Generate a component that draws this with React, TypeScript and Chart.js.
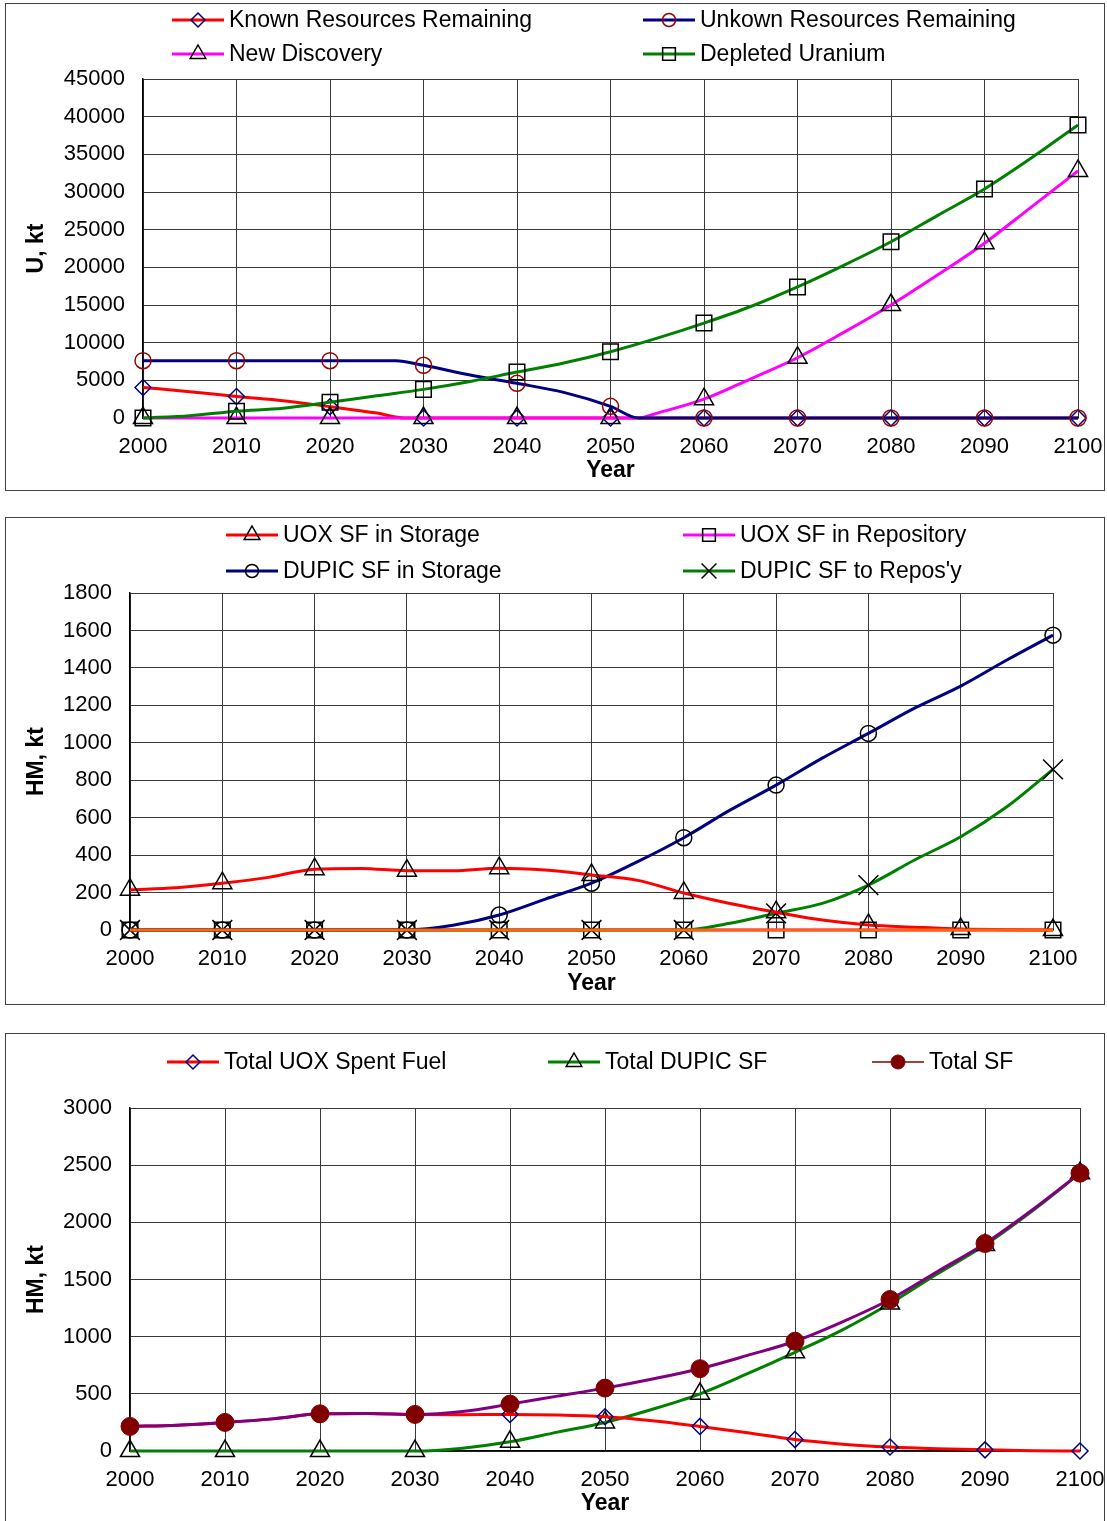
import React, { useEffect, useRef } from 'react';
import { Chart, registerables } from 'chart.js';

Chart.register(...registerables);

const FONT_FAMILY = '"Liberation Sans", Arial, Helvetica, sans-serif';

// ---------------- shared axis values ----------------
const yearTicks = [2000, 2010, 2020, 2030, 2040, 2050, 2060, 2070, 2080, 2090, 2100];
const years5 = [2000, 2005, 2010, 2015, 2020, 2025, 2030, 2035, 2040, 2045, 2050, 2055, 2060, 2065, 2070, 2075, 2080, 2085, 2090, 2095, 2100];
// DUPIC marker series in the original skip the 2090 point
const dupicMarkerYears = [2000, 2010, 2020, 2030, 2040, 2050, 2060, 2070, 2080, 2100];

// ---------------- chart 1: uranium (U, kt) ----------------
const uTicks = [0, 5000, 10000, 15000, 20000, 25000, 30000, 35000, 40000, 45000];
const knownYears = [2000, 2005, 2010, 2015, 2020, 2025, 2028, 2030, 2040, 2050, 2060, 2070, 2080, 2090, 2100];
const knownRemaining = [4050, 3500, 2850, 2300, 1500, 650, 0, 0, 0, 0, 0, 0, 0, 0, 0];
const unknownYears = [2000, 2010, 2020, 2027, 2030, 2035, 2040, 2045, 2050, 2053, 2060, 2070, 2080, 2090, 2100];
const unknownRemaining = [7600, 7600, 7600, 7600, 7000, 5700, 4600, 3400, 1550, 0, 0, 0, 0, 0, 0];
const discoveryYears = [2000, 2010, 2020, 2030, 2040, 2050, 2053, 2055, 2060, 2065, 2070, 2075, 2080, 2085, 2090, 2095, 2100];
const newDiscovery = [0, 0, 0, 0, 0, 0, 0, 650, 2500, 5200, 8000, 11400, 15000, 19000, 23200, 28000, 32800];
const depletedUranium = [0, 300, 900, 1300, 2100, 2950, 3800, 4850, 6100, 7300, 8800, 10600, 12600, 14800, 17400, 20300, 23400, 26900, 30400, 34500, 38900];

// ---------------- chart 2: spent fuel inventories (HM, kt) ----------------
const hm2Ticks = [0, 200, 400, 600, 800, 1000, 1200, 1400, 1600, 1800];
const uoxStorage = [215, 226, 250, 281, 325, 329, 317, 317, 330, 320, 294, 265, 198, 142, 95, 53, 27, 15, 5, 2, 0];
const uoxRepository = [0, 0, 0, 0, 0, 0, 0, 0, 0, 0, 0];
const dupicStorageYears = [2000, 2010, 2020, 2030, 2035, 2040, 2045, 2050, 2055, 2060, 2065, 2070, 2075, 2080, 2085, 2090, 2095, 2100];
const dupicStorage = [0, 0, 0, 0, 25, 80, 165, 250, 365, 493, 640, 774, 918, 1050, 1185, 1303, 1442, 1575];
const dupicReposYears = [2000, 2010, 2020, 2030, 2040, 2050, 2060, 2065, 2070, 2075, 2080, 2085, 2090, 2095, 2100];
const dupicToRepos = [0, 0, 0, 0, 0, 0, 0, 36, 89, 142, 240, 374, 498, 658, 858];
const otherZeroYears = [2000, 2100];
const otherZero = [0, 0];

// ---------------- chart 3: totals (HM, kt) ----------------
const hm3Ticks = [0, 500, 1000, 1500, 2000, 2500, 3000];
const totalUox = [215, 226, 250, 281, 325, 329, 320, 317, 320, 315, 300, 265, 215, 160, 100, 60, 35, 20, 10, 3, 0];
const totalDupicYears = [2000, 2010, 2020, 2030, 2035, 2040, 2045, 2050, 2055, 2060, 2065, 2070, 2075, 2080, 2085, 2090, 2095, 2100];
const totalDupic = [0, 0, 0, 0, 25, 80, 165, 250, 365, 500, 676, 863, 1060, 1290, 1550, 1801, 2100, 2430];
const totalSF = [215, 226, 250, 281, 325, 329, 320, 345, 410, 480, 550, 630, 720, 836, 960, 1130, 1325, 1570, 1815, 2110, 2430];

// ---------------- styling ----------------
type Marker = { style: string; radius: number; legendRadius: number; color: string; fill: string; width: number };

const NONE = 'rgba(0,0,0,0)';
const MARK: Record<string, Marker> = {
  diamondNavy: { style: 'rectRot', radius: 8, legendRadius: 7, color: '#000080', fill: NONE, width: 1.5 },
  circleDarkRed: { style: 'circle', radius: 8, legendRadius: 6.5, color: '#990000', fill: NONE, width: 1.5 },
  triangleBlack: { style: 'triangle', radius: 11, legendRadius: 9, color: '#000000', fill: NONE, width: 1.5 },
  squareBlack: { style: 'rect', radius: 11, legendRadius: 9, color: '#000000', fill: NONE, width: 1.5 },
  circleBlack: { style: 'circle', radius: 8, legendRadius: 6.5, color: '#000000', fill: NONE, width: 1.5 },
  crossBlack: { style: 'crossRot', radius: 14, legendRadius: 10.5, color: '#000000', fill: NONE, width: 1.5 },
  dotDarkRed: { style: 'circle', radius: 9, legendRadius: 7, color: '#800000', fill: '#800000', width: 1 },
};

function series(label: string, xs: number[], ys: number[], color: string, lineWidth: number, marker?: Marker, markerYears: number[] = yearTicks) {
  return {
    label,
    data: xs.map((x, i) => ({ x, y: ys[i] })),
    borderColor: color,
    backgroundColor: color,
    borderWidth: lineWidth,
    fill: false,
    cubicInterpolationMode: 'monotone',
    clip: false,
    pointStyle: marker ? marker.style : 'circle',
    pointRadius: marker ? (c: any) => (c.raw && markerYears.indexOf(c.raw.x) >= 0 ? marker.radius : 0) : 0,
    pointHoverRadius: 0,
    pointBorderColor: marker ? marker.color : color,
    pointBackgroundColor: marker ? marker.fill : color,
    pointBorderWidth: marker ? marker.width : 0,
  };
}

function drawMarker(ctx: CanvasRenderingContext2D, m: Marker, x: number, y: number) {
  const r = m.legendRadius;
  ctx.save();
  ctx.lineWidth = m.width;
  ctx.strokeStyle = m.color;
  ctx.fillStyle = m.fill;
  ctx.beginPath();
  if (m.style === 'circle') {
    ctx.arc(x, y, r, 0, Math.PI * 2);
  } else if (m.style === 'rectRot') {
    ctx.moveTo(x - r, y);
    ctx.lineTo(x, y - r);
    ctx.lineTo(x + r, y);
    ctx.lineTo(x, y + r);
    ctx.closePath();
  } else if (m.style === 'rect') {
    const s = r * Math.SQRT1_2;
    ctx.rect(x - s, y - s, 2 * s, 2 * s);
  } else if (m.style === 'triangle') {
    ctx.moveTo(x, y - r);
    ctx.lineTo(x + r * 0.866, y + r * 0.5);
    ctx.lineTo(x - r * 0.866, y + r * 0.5);
    ctx.closePath();
  } else if (m.style === 'crossRot') {
    const o = r * Math.SQRT1_2;
    ctx.moveTo(x - o, y - o);
    ctx.lineTo(x + o, y + o);
    ctx.moveTo(x + o, y - o);
    ctx.lineTo(x - o, y + o);
  }
  if (m.fill !== NONE) ctx.fill();
  ctx.stroke();
  ctx.restore();
}

type LegendItem = { index: number; x: number; y: number; marker: Marker; lineColor?: string; lineWidth?: number };

function legendPlugin(items: LegendItem[]) {
  return {
    id: 'excelLegend',
    afterDraw(chart: any) {
      const ctx: CanvasRenderingContext2D = chart.ctx;
      ctx.save();
      items.forEach((it) => {
        const ds = chart.data.datasets[it.index];
        ctx.strokeStyle = it.lineColor || ds.borderColor;
        ctx.lineWidth = it.lineWidth || 3;
        ctx.beginPath();
        ctx.moveTo(it.x, it.y);
        ctx.lineTo(it.x + 52, it.y);
        ctx.stroke();
        drawMarker(ctx, it.marker, it.x + 26, it.y);
        ctx.fillStyle = '#000';
        ctx.font = `23px ${FONT_FAMILY}`;
        ctx.textAlign = 'left';
        ctx.textBaseline = 'middle';
        ctx.fillText(ds.label, it.x + 57, it.y + 1);
      });
      ctx.restore();
    },
  };
}

type Spec = {
  datasets: any[];
  yTicks: number[];
  yTitle: string;
  padTop: number;
  padRight: number;
  yWidth: number;
  xHeight: number;
  yearPad: number;
  legend: LegendItem[];
};

function buildConfig(spec: Spec): any {
  const tickFont = { family: FONT_FAMILY, size: 22 };
  const titleFont = { family: FONT_FAMILY, size: 23, weight: 'bold' };
  const yMax = spec.yTicks[spec.yTicks.length - 1];
  return {
    type: 'line',
    data: { datasets: spec.datasets },
    plugins: [legendPlugin(spec.legend)],
    options: {
      responsive: false,
      animation: false,
      events: [],
      layout: { padding: { top: spec.padTop, right: spec.padRight, left: 0, bottom: 0 } },
      plugins: { legend: { display: false }, tooltip: { enabled: false } },
      scales: {
        x: {
          type: 'linear',
          min: yearTicks[0],
          max: yearTicks[yearTicks.length - 1],
          afterFit: (s: any) => {
            s.height = spec.xHeight;
            s.paddingLeft = 0;
            s.paddingRight = 0;
          },
          afterBuildTicks: (s: any) => { s.ticks = yearTicks.map((v) => ({ value: v })); },
          ticks: { autoSkip: false, maxRotation: 0, padding: 16, color: '#000', font: tickFont, callback: (v: any) => String(v) },
          grid: { color: '#3a3a3a', lineWidth: 1, drawTicks: false },
          border: { display: true, color: '#000', width: 1.5 },
          title: { display: true, text: 'Year', color: '#000', font: titleFont, padding: { top: 0, bottom: spec.yearPad } },
        },
        y: {
          type: 'linear',
          min: 0,
          max: yMax,
          afterFit: (s: any) => {
            s.width = spec.yWidth;
            s.paddingTop = 0;
            s.paddingBottom = 0;
          },
          afterBuildTicks: (s: any) => { s.ticks = spec.yTicks.map((v) => ({ value: v })); },
          ticks: { autoSkip: false, padding: 18, color: '#000', font: tickFont, callback: (v: any) => String(v) },
          grid: { color: '#3a3a3a', lineWidth: 1, drawTicks: false },
          border: { display: true, color: '#000', width: 1.5 },
          title: { display: true, text: spec.yTitle, color: '#000', font: titleFont, padding: { top: 17, bottom: 0 } },
        },
      },
    },
  };
}

const chart1Spec = (): Spec => ({
  datasets: [
    series('Depleted Uranium', years5, depletedUranium, '#008000', 3, MARK.squareBlack),
    series('Unkown Resources Remaining', unknownYears, unknownRemaining, '#000080', 3, MARK.circleDarkRed),
    series('New Discovery', discoveryYears, newDiscovery, '#FF00FF', 3, MARK.triangleBlack),
    series('Known Resources Remaining', knownYears, knownRemaining, '#FF0000', 3, MARK.diamondNavy),
  ],
  yTicks: uTicks,
  yTitle: 'U, kt',
  padTop: 75,
  padRight: 26,
  yWidth: 137,
  xHeight: 72,
  yearPad: 6,
  legend: [
    { index: 3, x: 166, y: 16, marker: MARK.diamondNavy },
    { index: 1, x: 637, y: 16, marker: MARK.circleDarkRed },
    { index: 2, x: 166, y: 50, marker: MARK.triangleBlack },
    { index: 0, x: 637, y: 50, marker: MARK.squareBlack },
  ],
});

const chart2Spec = (): Spec => ({
  datasets: [
    series('', otherZeroYears, otherZero, '#FF6600', 3),
    series('UOX SF in Storage', years5, uoxStorage, '#FF0000', 3, MARK.triangleBlack),
    series('DUPIC SF in Storage', dupicStorageYears, dupicStorage, '#000080', 3, MARK.circleBlack, dupicMarkerYears),
    series("DUPIC SF to Repos'y", dupicReposYears, dupicToRepos, '#008000', 3, MARK.crossBlack, dupicMarkerYears),
    series('UOX SF in Repository', yearTicks, uoxRepository, '#FF00FF', 3, MARK.squareBlack),
  ],
  yTicks: hm2Ticks,
  yTitle: 'HM, kt',
  padTop: 75,
  padRight: 51,
  yWidth: 124,
  xHeight: 74,
  yearPad: 7,
  legend: [
    { index: 1, x: 220, y: 17, marker: MARK.triangleBlack },
    { index: 4, x: 677, y: 17, marker: MARK.squareBlack },
    { index: 2, x: 220, y: 53, marker: MARK.circleBlack },
    { index: 3, x: 677, y: 53, marker: MARK.crossBlack },
  ],
});

const chart3Spec = (): Spec => ({
  datasets: [
    series('Total SF', years5, totalSF, '#800080', 3, MARK.dotDarkRed),
    series('Total UOX Spent Fuel', years5, totalUox, '#FF0000', 3, MARK.diamondNavy),
    series('Total DUPIC SF', totalDupicYears, totalDupic, '#008000', 3, MARK.triangleBlack),
  ],
  yTicks: hm3Ticks,
  yTitle: 'HM, kt',
  padTop: 74,
  padRight: 24,
  yWidth: 124,
  xHeight: 81,
  yearPad: 15,
  legend: [
    { index: 1, x: 161, y: 28, marker: MARK.diamondNavy },
    { index: 2, x: 542, y: 28, marker: MARK.triangleBlack },
    { index: 0, x: 866, y: 28, marker: MARK.dotDarkRed, lineColor: '#800000', lineWidth: 1.5 },
  ],
});

function ChartBox({ top, height, spec }: { top: number; height: number; spec: () => Spec }) {
  const ref = useRef<HTMLCanvasElement | null>(null);
  useEffect(() => {
    if (!ref.current) return;
    const chart = new Chart(ref.current, buildConfig(spec()));
    return () => chart.destroy();
  }, [spec]);
  const w = 1098;
  const h = height - 2;
  return (
    <div
      style={{
        position: 'absolute',
        left: 5,
        top,
        width: 1100,
        height,
        boxSizing: 'border-box',
        border: '1px solid #404040',
        background: '#ffffff',
      }}
    >
      <canvas ref={ref} width={w} height={h} style={{ display: 'block', width: w, height: h }} />
    </div>
  );
}

export default function App() {
  return (
    <div
      style={{
        position: 'absolute',
        left: 0,
        top: 0,
        width: 1107,
        height: 1521,
        overflow: 'hidden',
        background: '#ffffff',
      }}
    >
      <ChartBox top={3} height={488} spec={chart1Spec} />
      <ChartBox top={517} height={488} spec={chart2Spec} />
      <ChartBox top={1033} height={500} spec={chart3Spec} />
    </div>
  );
}
